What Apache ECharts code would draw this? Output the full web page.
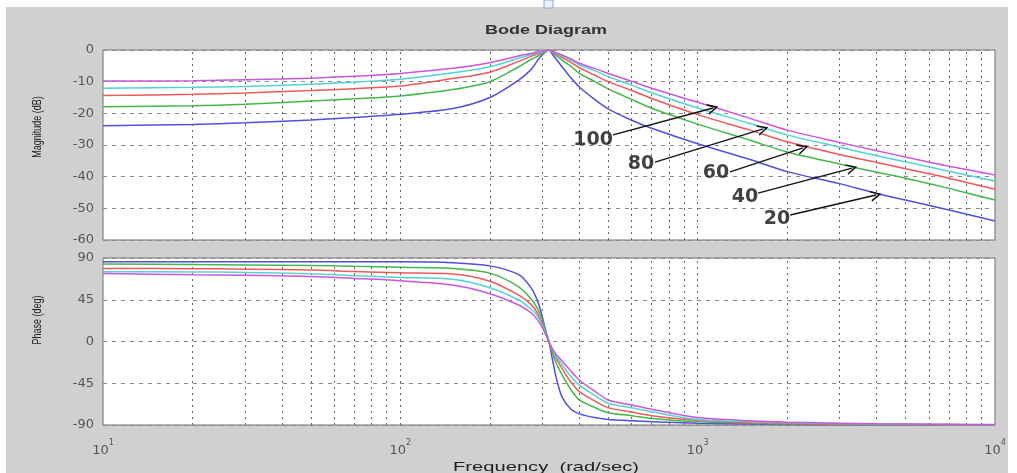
<!DOCTYPE html>
<html>
<head>
<meta charset="utf-8">
<script src="https://cdn.jsdelivr.net/npm/echarts@6/dist/echarts.min.js"></script>
<style>
html,body{margin:0;padding:0;background:#fff;}
#chart{width:1017px;height:473px;}
</style>
</head>
<body>
<div id="chart"></div>
<script>
// ---- Data ----
const freqs = [10, 20, 30, 50, 70, 100, 150, 200, 250, 275, 290, 300, 308, 316, 325, 335, 350, 375, 400, 450, 500, 600, 700, 1000, 1500, 2000, 3000, 4000, 5000, 7000, 10000];

const magQ100 = [-9.8, -9.7, -9.4, -8.9, -8.3, -7.4, -5.8, -4.0, -1.9, -1.1, -0.6, -0.4, -0.2, 0, -0.4, -0.9, -1.6, -2.8, -4.2, -5.8, -7.4, -9.9, -12.1, -16.5, -21.6, -25.3, -29.2, -31.8, -33.8, -36.7, -39.5];
const magQ80  = [-12.1, -11.8, -11.5, -10.8, -10.1, -9.2, -7.2, -5.3, -2.6, -1.5, -0.9, -0.6, -0.3, 0, -0.5, -1.1, -1.9, -3.2, -4.7, -6.5, -8.4, -11.1, -13.5, -18.3, -23.2, -26.8, -30.7, -33.4, -35.3, -38.3, -41.4];
const magQ60  = [-14.4, -14.0, -13.6, -12.8, -12.2, -11.4, -9.0, -7.0, -3.6, -2.0, -1.2, -0.8, -0.4, 0, -0.6, -1.4, -2.4, -3.9, -5.6, -7.9, -10.0, -12.8, -15.3, -20.4, -25.3, -29.0, -33.0, -35.5, -37.5, -40.5, -44.0];
const magQ40  = [-17.9, -17.6, -17.1, -16.1, -15.4, -14.5, -12.5, -10.0, -5.3, -3.0, -1.9, -1.2, -0.6, 0, -0.8, -1.9, -3.2, -5.2, -7.4, -9.9, -12.3, -15.6, -18.4, -23.4, -28.5, -32.2, -36.0, -38.6, -40.5, -43.7, -47.4];
const magQ20  = [-23.9, -23.5, -23.0, -22.1, -21.3, -20.3, -18.5, -15.0, -9.5, -6.2, -3.2, -1.6, -0.6, 0, -1.4, -3.0, -5.3, -8.8, -11.7, -15.6, -18.6, -22.2, -24.7, -29.6, -34.6, -38.4, -42.2, -45.3, -47.4, -50.5, -54.0];

const phQ100 = [73.4, 72.0, 71.5, 70.0, 68.0, 65.5, 60.9, 51.5, 39.3, 31.0, 23.0, 15.5, 7.5, 0, -8.0, -14.5, -21.0, -32.0, -41.5, -53.5, -63.0, -68.5, -73.0, -82.0, -85.5, -87.0, -88.0, -88.7, -89.0, -89.3, -89.5];
const phQ80  = [75.2, 75.0, 74.5, 73.0, 71.0, 69.0, 67.0, 58.0, 44.7, 35.0, 27.0, 18.0, 9.0, 0, -9.0, -17.0, -25.0, -38.0, -47.0, -58.0, -66.6, -71.5, -75.7, -84.0, -86.5, -87.5, -88.5, -89.0, -89.2, -89.4, -89.6];
const phQ60  = [78.8, 78.5, 78.0, 77.0, 75.5, 74.0, 72.7, 65.0, 50.0, 40.0, 30.0, 20.0, 10.0, 0, -10.0, -19.0, -29.0, -44.0, -54.0, -64.0, -71.3, -76.0, -80.0, -85.0, -87.5, -88.5, -89.0, -89.3, -89.4, -89.6, -89.7];
const phQ40  = [83.4, 83.0, 82.5, 82.0, 81.0, 80.0, 78.8, 73.7, 59.0, 46.0, 35.0, 24.0, 12.0, 0, -13.0, -24.0, -36.0, -52.0, -63.0, -71.0, -76.7, -80.0, -82.9, -86.5, -88.0, -89.0, -89.5, -89.6, -89.6, -89.7, -89.8];
const phQ20  = [86.0, 86.0, 86.0, 86.0, 86.0, 86.0, 85.0, 81.5, 72.0, 58.0, 43.0, 27.0, 12.0, 0, -20.0, -40.0, -60.0, -73.0, -78.0, -82.0, -84.0, -85.5, -86.5, -88.0, -89.0, -89.5, -89.7, -89.8, -89.8, -89.9, -89.9];

const seriesNames = ['20', '40', '60', '80', '100'];
const seriesColors = ['#5050e0', '#44b848', '#ee5a5a', '#55d2d2', '#cc55dd'];
const magSets = [magQ20, magQ40, magQ60, magQ80, magQ100];
const phSets = [phQ20, phQ40, phQ60, phQ80, phQ100];

const magTicks = [0, -10, -20, -30, -40, -50, -60];
const phaseTicks = [90, 45, 0, -45, -90];
const gridFreqs = [20, 30, 40, 50, 60, 70, 80, 90, 100, 200, 300, 400, 500, 600, 700, 800, 900, 1000, 2000, 3000, 4000, 5000, 6000, 7000, 8000, 9000];

// annotation labels and arrows (data coordinates: frequency, dB)
const annoLabels = ['100', '80', '60', '40', '20'];
const annoLabelPos = [[445, -28.4], [645, -36.0], [1153, -38.8], [1442, -46.4], [1849, -53.4]];
const annoTail = [[519, -26.8], [719, -35.4], [1285, -38.5], [1596, -45.2], [2047, -52.1]];
const annoHead = [[1127, -18.3], [1660, -24.9], [2262, -30.9], [3304, -37.3], [3983, -45.8]];

// ---- Chart ----
const chart = echarts.init(document.getElementById('chart'), null, {renderer: 'canvas'});
const FONT = '"Liberation Sans", Arial, sans-serif';
const supMap = {1: '1', 2: '2', 3: '3', 4: '4'};

const vGrid = (idx) => ({
  type: 'line', xAxisIndex: idx, yAxisIndex: idx, data: [], silent: true,
  markLine: {
    silent: true, symbol: ['none', 'none'], animation: false,
    label: {show: false},
    lineStyle: {color: '#666666', type: [2, 4], width: 1},
    data: gridFreqs.map(f => ({xAxis: f}))
  }
});

const series = [vGrid(0), vGrid(1)];
magSets.forEach((arr, k) => {
  series.push({
    name: 'mag' + seriesNames[k], type: 'line', xAxisIndex: 0, yAxisIndex: 0,
    data: freqs.map((f, i) => [f, arr[i]]), showSymbol: false, smooth: 0.3,
    lineStyle: {color: seriesColors[k], width: 1.5}, itemStyle: {color: seriesColors[k]}, z: 3 + k
  });
});
phSets.forEach((arr, k) => {
  series.push({
    name: 'ph' + seriesNames[k], type: 'line', xAxisIndex: 1, yAxisIndex: 1,
    data: freqs.map((f, i) => [f, arr[i]]), showSymbol: false, smooth: 0.3,
    lineStyle: {color: seriesColors[k], width: 1.5}, itemStyle: {color: seriesColors[k]}, z: 3 + k
  });
});
// annotations
series.push({
  type: 'scatter', xAxisIndex: 0, yAxisIndex: 0, symbolSize: 0, z: 20,
  data: annoLabels.map((t, i) => ({name: t, value: annoLabelPos[i]})),
  label: {show: true, position: 'inside', formatter: p => p.name,
    fontFamily: '"DejaVu Sans", sans-serif', fontWeight: 'bold', fontSize: 19, color: '#111'},
  markLine: {
    silent: true, animation: false, z: 20,
    symbol: ['none', 'path://M0,12 L6,0 L12,12 L10.2,12 L6,3.6 L1.8,12 Z'],
    symbolSize: [11, 11],
    label: {show: false},
    lineStyle: {color: '#111', type: 'solid', width: 1.4},
    data: annoTail.map((t, i) => [{coord: t}, {coord: annoHead[i]}])
  }
});

const xAxisBase = {
  type: 'log', logBase: 10, min: 10, max: 10000,
  axisLine: {show: false}, axisTick: {show: false}, splitLine: {show: false}
};

chart.setOption({
  animation: false,
  backgroundColor: '#d0d0d0',
  grid: [
    {left: 103, top: 50, width: 892, height: 190, show: true, backgroundColor: '#ffffff', borderColor: '#707070', borderWidth: 1},
    {left: 103, top: 258, width: 892, height: 167, show: true, backgroundColor: '#ffffff', borderColor: '#707070', borderWidth: 1}
  ],
  xAxis: [
    Object.assign({gridIndex: 0, axisLabel: {show: false}}, xAxisBase),
    Object.assign({gridIndex: 1, axisLabel: {
      show: true, margin: 14, color: '#555',
      formatter: v => '{b|10}{s|' + supMap[Math.round(Math.log10(v))] + '}',
      rich: {
        b: {fontFamily: '"DejaVu Sans", sans-serif', fontSize: 13, color: '#555', lineHeight: 18, verticalAlign: 'bottom'},
        s: {fontFamily: '"DejaVu Sans", sans-serif', fontSize: 8, color: '#555', lineHeight: 18, verticalAlign: 'top'}
      }
    }}, xAxisBase)
  ],
  yAxis: [
    {type: 'value', gridIndex: 0, min: -60, max: 0, interval: 10,
      axisLine: {show: false}, axisTick: {show: false},
      axisLabel: {margin: 9, color: '#555', fontFamily: '"DejaVu Sans", sans-serif', fontSize: 13,
        customValues: magTicks},
      splitLine: {show: true, lineStyle: {color: '#8a8a8a', type: [4, 5], width: 1}}},
    {type: 'value', gridIndex: 1, min: -90, max: 90, interval: 45,
      axisLine: {show: false}, axisTick: {show: false},
      axisLabel: {margin: 9, color: '#555', fontFamily: '"DejaVu Sans", sans-serif', fontSize: 13,
        customValues: phaseTicks},
      splitLine: {show: true, lineStyle: {color: '#8a8a8a', type: [4, 5], width: 1}}}
  ],
  graphic: [
    {type: 'rect', z: -10, shape: {x: 0, y: 0, width: 1017, height: 7}, style: {fill: '#ffffff'}, silent: true},
    {type: 'rect', z: -10, shape: {x: 0, y: 0, width: 6, height: 473}, style: {fill: '#ffffff'}, silent: true},
    {type: 'rect', z: -10, shape: {x: 1008, y: 0, width: 9, height: 473}, style: {fill: '#ffffff'}, silent: true},
    {type: 'rect', shape: {x: 544, y: 0, width: 9, height: 8}, style: {fill: '#eef3fb', stroke: '#8aa6d6', lineWidth: 1}, silent: true},
    {type: 'text', x: 546, y: 31, scaleX: 1.5,
      style: {text: 'Bode Diagram', font: 'bold 12px ' + FONT, fill: '#333', align: 'center', verticalAlign: 'middle'}},
    {type: 'text', x: 37, y: 127, rotation: Math.PI / 2, scaleY: 1.5,
      style: {text: 'Magnitude (dB)', font: '9px ' + FONT, fill: '#222', align: 'center', verticalAlign: 'middle'}},
    {type: 'text', x: 37, y: 320, rotation: Math.PI / 2, scaleY: 1.5,
      style: {text: 'Phase (deg)', font: '9px ' + FONT, fill: '#222', align: 'center', verticalAlign: 'middle'}},
    {type: 'text', x: 546, y: 467, scaleX: 1.55,
      style: {text: 'Frequency  (rad/sec)', font: '13px ' + FONT, fill: '#222', align: 'center', verticalAlign: 'middle'}}
  ],
  series: series
});
</script>
</body>
</html>
